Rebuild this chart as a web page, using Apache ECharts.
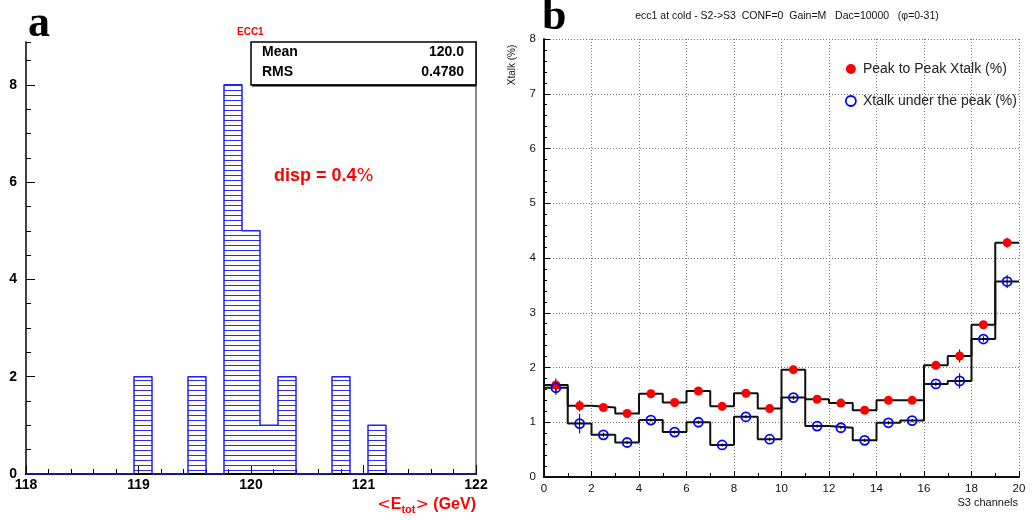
<!DOCTYPE html>
<html><head><meta charset="utf-8">
<script src="https://cdn.jsdelivr.net/npm/echarts@6/dist/echarts.min.js"></script>
<style>html,body{margin:0;padding:0;background:#fff}#c{width:1032px;height:520px}</style>
</head><body><div id="c"></div>
<script>
// ---------- Panel a : histogram of <E_tot> ----------
const aEdges = [118.00,118.16,118.32,118.48,118.64,118.80,118.96,119.12,119.28,119.44,119.60,119.76,119.92,
                120.08,120.24,120.40,120.56,120.72,120.88,121.04,121.20,121.36,121.52,121.68,121.84,122.00];
const aCounts = [0,0,0,0,0,0,2,0,0,2,0,8,5,1,2,0,0,2,0,1,0,0,0,0,0];
const aStatNames = ['Mean','RMS'];
const aStatValues = ['120.0','0.4780'];
const aXTicks = [118,119,120,121,122];

// ---------- Panel b : crosstalk per S3 channel ----------
const bChannels = [0,1,2,3,4,5,6,7,8,9,10,11,12,13,14,15,16,17,18,19];
const bPeak     = [1.68,1.30,1.27,1.16,1.52,1.36,1.57,1.29,1.53,1.25,1.96,1.42,1.35,1.22,1.40,1.40,2.04,2.21,2.78,4.28];
const bPeakErr  = [0.12,0.10,0.04,0.04,0.04,0.04,0.04,0.04,0.04,0.04,0.08,0.05,0.04,0.04,0.04,0.04,0.04,0.12,0.04,0.09];
const bUnder    = [1.63,0.975,0.77,0.63,1.04,0.82,1.00,0.585,1.10,0.69,1.45,0.93,0.90,0.67,0.99,1.03,1.70,1.755,2.52,3.57];
const bUnderErr = [0.13,0.18,0.04,0.03,0.03,0.03,0.03,0.03,0.03,0.03,0.04,0.03,0.03,0.03,0.03,0.03,0.04,0.14,0.05,0.12];
const bNames = ['Peak to Peak Xtalk (%)','Xtalk under the peak (%)'];

const chart = echarts.init(document.getElementById('c'), null, {renderer:'canvas'});

// hatch pattern (horizontal lines)
const pc = document.createElement('canvas'); pc.width = 4; pc.height = 5;
const pctx = pc.getContext('2d'); pctx.fillStyle = '#2b2bff'; pctx.fillRect(0,0,4,1);

const aStep = aEdges.map((e,i)=>[e, i<aCounts.length ? aCounts[i] : 0]);
const aBins = aCounts.map((c,i)=>[aEdges[i], aEdges[i+1], c]);
const bStepPeak = bChannels.map((c,i)=>[c, bPeak[i]]).concat([[bChannels[bChannels.length-1]+1, bPeak[bPeak.length-1]]]);
const bStepUnder = bChannels.map((c,i)=>[c, bUnder[i]]).concat([[bChannels[bChannels.length-1]+1, bUnder[bUnder.length-1]]]);
const bErr = bChannels.map((c,i)=>[c+0.5, bPeak[i], bPeakErr[i]])
      .concat(bChannels.map((c,i)=>[c+0.5, bUnder[i], bUnderErr[i]]));

const fa = 'Liberation Sans, Arial, Helvetica, sans-serif';
const fb = 'Liberation Sans, Arial, sans-serif';

const option = {
  animation:false,
  backgroundColor:'#fff',
  grid:[
    {left:26, top:42, width:450, height:432, show:false},
    {left:544, top:39, width:475, height:438, show:false}
  ],
  xAxis:[
    {gridIndex:0, type:'value', position:'bottom', min:118, max:122, interval:1,
     axisLine:{lineStyle:{color:'#000', width:2}},
     axisTick:{inside:true, length:9, lineStyle:{color:'#000', width:1}},
     minorTick:{show:true, splitNumber:5, length:5, lineStyle:{color:'#000', width:1}},
     axisLabel:{color:'#000', fontSize:14, fontWeight:'bold', fontFamily:fa, margin:4,
       formatter:v=>aXTicks.indexOf(v)>=0?String(v):''},
     splitLine:{show:false}},
    {gridIndex:0, type:'value', position:'top', min:118, max:122,
     axisLine:{lineStyle:{color:'#000', width:1.5}}, axisTick:{show:false}, axisLabel:{show:false}, splitLine:{show:false}},
    {gridIndex:1, type:'value', position:'bottom', min:0, max:20, interval:2,
     axisLine:{lineStyle:{color:'#000', width:1.5}},
     axisTick:{inside:true, length:6, lineStyle:{color:'#000'}},
     minorTick:{show:true, splitNumber:2, length:4, lineStyle:{color:'#000'}},
     axisLabel:{color:'#111', fontSize:11.5, fontFamily:fb, margin:6},
     splitLine:{show:true, lineStyle:{color:'#777', type:[1,2], width:1}}},
    {gridIndex:1, type:'value', position:'top', min:0, max:20,
     axisLine:{lineStyle:{color:'#000', width:1.5}}, axisTick:{show:false}, axisLabel:{show:false}, splitLine:{show:false}}
  ],
  yAxis:[
    {gridIndex:0, type:'value', position:'left', min:0, max:8.88, interval:2,
     axisLine:{lineStyle:{color:'#000', width:1.5}},
     axisTick:{inside:true, length:9, lineStyle:{color:'#000'}},
     axisLabel:{color:'#000', fontSize:14, fontWeight:'bold', fontFamily:fa, margin:9, showMaxLabel:false},
     splitLine:{show:false}},
    {gridIndex:0, type:'value', position:'left', min:0, max:8.88, interval:0.5,
     axisLine:{show:false},
     axisTick:{inside:true, length:5, lineStyle:{color:'#000'}},
     axisLabel:{show:false}, splitLine:{show:false}},
    {gridIndex:0, type:'value', position:'right', min:0, max:8.88,
     axisLine:{lineStyle:{color:'#888', width:2}}, axisTick:{show:false}, axisLabel:{show:false}, splitLine:{show:false}},
    {gridIndex:1, type:'value', position:'left', min:0, max:8, interval:1,
     axisLine:{lineStyle:{color:'#000', width:1.5}},
     axisTick:{inside:true, length:6, lineStyle:{color:'#000'}},
     minorTick:{show:true, splitNumber:5, length:3, lineStyle:{color:'#000'}},
     axisLabel:{color:'#111', fontSize:11.5, fontFamily:fb, margin:8},
     splitLine:{show:true, lineStyle:{color:'#777', type:[1,2], width:1}}},
    {gridIndex:1, type:'value', position:'right', min:0, max:8,
     axisLine:{lineStyle:{color:'#000', width:1.5}}, axisTick:{show:false}, axisLabel:{show:false}, splitLine:{show:false}}
  ],
  legend:{
    orient:'vertical', left:840, top:57, itemGap:18, itemWidth:10, itemHeight:10,
    textStyle:{fontSize:14, color:'#222', fontFamily:'Liberation Sans, Arial, sans-serif', padding:[0,0,0,2]},
    data:[
      {name:bNames[0], icon:'circle', itemStyle:{color:'#f00', borderWidth:0}},
      {name:bNames[1], icon:'circle', itemStyle:{color:'#fff', borderColor:'#00f', borderWidth:1.8}}
    ]
  },
  series:[
    {type:'custom', xAxisIndex:0, yAxisIndex:0, encode:{x:[0,1], y:2}, data:aBins, z:2,
     renderItem:(params, api)=>{
       const v = api.value(2); if (!(v>0)) return null;
       const p0 = api.coord([api.value(0), v]), p1 = api.coord([api.value(1), 0]);
       return {type:'rect', shape:{x:p0[0], y:p0[1], width:p1[0]-p0[0], height:p1[1]-p0[1]},
               style:{fill:{image:pc, repeat:'repeat'}, stroke:null}};
     }},
    {type:'line', xAxisIndex:0, yAxisIndex:0, data:aStep, step:'end', symbol:'none', z:3,
     lineStyle:{color:'#1f1fff', width:1.5}},
    {type:'line', xAxisIndex:2, yAxisIndex:3, data:bStepPeak, step:'end', symbol:'none', z:3,
     lineStyle:{color:'#111', width:2}},
    {type:'line', xAxisIndex:2, yAxisIndex:3, data:bStepUnder, step:'end', symbol:'none', z:3,
     lineStyle:{color:'#111', width:2}},
    {type:'custom', xAxisIndex:2, yAxisIndex:3, encode:{x:0, y:1}, data:bErr, z:4,
     renderItem:(params, api)=>{
       const x = api.value(0), v = api.value(1), e = api.value(2);
       const a = api.coord([x, v+e]), b = api.coord([x, v-e]);
       return {type:'line', shape:{x1:a[0], y1:a[1], x2:b[0], y2:b[1]}, style:{stroke:'#000', lineWidth:1}};
     }},
    {type:'scatter', name:bNames[0], xAxisIndex:2, yAxisIndex:3, z:5,
     data:bChannels.map((c,i)=>[c+0.5, bPeak[i]]), symbol:'circle', symbolSize:9,
     itemStyle:{color:'#f00', opacity:1}},
    {type:'scatter', name:bNames[1], xAxisIndex:2, yAxisIndex:3, z:6,
     data:bChannels.map((c,i)=>[c+0.5, bUnder[i]]), symbol:'circle', symbolSize:9,
     itemStyle:{color:'rgba(255,255,255,0)', borderColor:'#00f', borderWidth:1.8, opacity:1}}
  ],
  graphic:[
    {type:'text', left:28, top:3, style:{text:'a', font:'bold 44px "Liberation Serif", "DejaVu Serif", serif', fill:'#000'}},
    {type:'text', left:542, top:-4, style:{text:'b', font:'bold 44px "Liberation Serif", "DejaVu Serif", serif', fill:'#000'}},
    {type:'text', left:237, top:27, style:{text:'ECC1', font:'bold 10px "Liberation Sans", Arial, sans-serif', fill:'#f00'}},
    {type:'rect', shape:{x:251, y:42, width:225, height:43}, style:{fill:'#fff', stroke:'#000', lineWidth:1.5}, z:10},
    {type:'line', shape:{x1:252, y1:85.5, x2:476, y2:85.5}, style:{stroke:'#000', lineWidth:2}, z:11},
    {type:'text', left:262, top:45, z:12, style:{text:aStatNames[0], font:'bold 14px "Liberation Sans", Arial, sans-serif', fill:'#000'}},
    {type:'text', right:1032-464, top:45, z:12, style:{text:aStatValues[0], font:'bold 14px "Liberation Sans", Arial, sans-serif', fill:'#000'}},
    {type:'text', left:262, top:65, z:12, style:{text:aStatNames[1], font:'bold 14px "Liberation Sans", Arial, sans-serif', fill:'#000'}},
    {type:'text', right:1032-464, top:65, z:12, style:{text:aStatValues[1], font:'bold 14px "Liberation Sans", Arial, sans-serif', fill:'#000'}},
    {type:'text', left:274, top:167, style:{text:'{m|disp = 0.4}{p|%}', fill:'#f00',
      rich:{m:{fontSize:18, fontWeight:'bold', fontFamily:'Liberation Sans, Arial', fill:'#f00'},
            p:{fontSize:18, fontWeight:'normal', fontFamily:'DejaVu Sans', fill:'#f00'}}}},
    {type:'text', right:1032-476, top:497, style:{text:'{s|<}{m|E}{u|tot}{s|>}{m| (GeV)}', fill:'#f00',
      rich:{m:{fontSize:16, fontWeight:'bold', fontFamily:'Liberation Sans, Arial', fill:'#f00'},
            s:{fontSize:16, fontWeight:'normal', fontFamily:'DejaVu Sans', fill:'#f00'},
            u:{fontSize:11, fontWeight:'bold', fontFamily:'Liberation Sans, Arial', fill:'#f00', padding:[10,0,0,0]}}}},
    {type:'text', x:787, y:16, style:{text:'ecc1 at cold - S2->S3  CONF=0  Gain=M   Dac=10000   (\u03c6=0-31)',
      font:'10.5px "Liberation Sans", Arial, sans-serif', fill:'#111', align:'center', verticalAlign:'middle'}},
    {type:'text', x:512, y:65, rotation:Math.PI/2, style:{text:'Xtalk (%)',
      font:'10px "Liberation Sans", Arial, sans-serif', fill:'#111', align:'center', verticalAlign:'middle'}},
    {type:'text', x:1018, y:503, style:{text:'S3 channels',
      font:'11px "Liberation Sans", Arial, sans-serif', fill:'#111', align:'right', verticalAlign:'middle'}}
  ]
};
chart.setOption(option);
</script></body></html>
